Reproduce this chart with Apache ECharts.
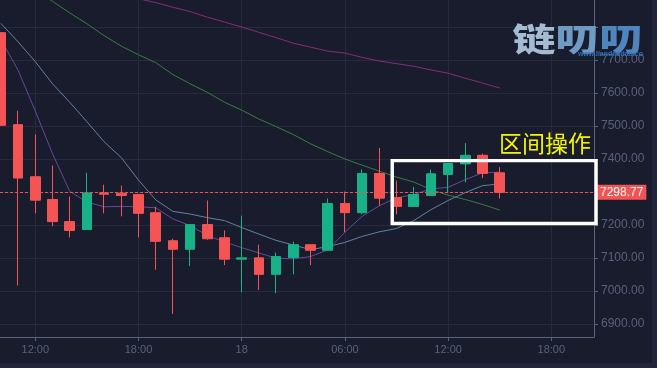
<!DOCTYPE html>
<html><head><meta charset="utf-8">
<script src="https://cdn.jsdelivr.net/npm/echarts@6/dist/echarts.min.js"></script>
<style>
html,body{margin:0;padding:0;background:#22263a;width:657px;height:368px;overflow:hidden}
#c{width:652px;height:363px}
</style></head>
<body><div id="c"></div>
<script>
// hour offsets (10 = 17th 10:00, 24 = 18th 00:00)
const hours = [10,11,12,13,14,15,16,17,18,19,20,21,22,23,24,25,26,27,28,29,30,31,32,33,34,35,36,37,38,39];
const open  = [7783,7504,7346,7277,7210,7186,7297,7296,7292,7237,7152,7126,7201,7161,7096,7100,7050,7101,7140,7123,7265,7237,7356,7283,7256,7289,7353,7385,7411,7358];
const close = [7502,7342,7275,7210,7183,7297,7293,7289,7235,7150,7126,7201,7158,7096,7100,7050,7104,7140,7123,7265,7237,7356,7281,7256,7292,7355,7386,7411,7356,7298.77];
const low   = [7502,7016,7235,7196,7162,7186,7235,7226,7162,7064,6930,7075,7155,7078,6996,7003,6993,7050,7078,7123,7178,7232,7258,7232,7256,7289,7296,7329,7342,7280];
const high  = [7783,7546,7474,7380,7286,7358,7322,7319,7292,7255,7158,7201,7274,7183,7228,7140,7116,7149,7140,7280,7301,7368,7433,7334,7315,7368,7386,7448,7416,7375];
const ma5   = [7762,7669,7545,7416,7302,7269,7255,7256,7255,7252,7218,7198,7168,7148,7131,7115,7099,7097,7104,7124,7178,7226,7258,7282,7292,7309,7314,7337,7358,7360];
const ma10  = [7811,7755,7695,7628,7572,7513,7452,7404,7336,7276,7241,7233,7222,7213,7192,7172,7153,7139,7125,7134,7147,7165,7179,7189,7213,7246,7274,7298,7319,7324];
const ma30  = [null,null,7910,7878,7843,7810,7774,7742,7716,7692,7656,7628,7602,7572,7548,7521,7498,7474,7446,7422,7400,7381,7363,7345,7330,7307,7290,7277,7262,7245];
const ma60  = [null,null,null,null,null,null,7912,7899,7886,7874,7860,7847,7830,7815,7800,7784,7768,7751,7739,7727,7721,7708,7697,7689,7681,7670,7660,7645,7630,7615];
const lastPrice = 7298.77;
const xTickHours  = [12,18,24,30,36,42];
const xTickLabels = ['12:00','18:00','18','06:00','12:00','18:00'];
const yTicks = [6900,7000,7100,7200,7300,7400,7500,7600,7700,7800];
const yLabelValues = [6900,7000,7100,7200,7300,7400,7500,7600,7700];
const boxHours  = [32.75, 44.6];
const boxPrices = [7204, 7395];
const noteText = '区间操作';
const logoChars = ['链','叨','叨'];
const logoColors = ['#a3bcd2','#6e9ac4','#4f85bd'];
const logoUrl = 'www.liandaodao.co';

const UP = '#17b287', DOWN = '#f45454';
const candleData = hours.map((h,i)=>[h, open[i], close[i], low[i], high[i]]);
const pair = arr => hours.map((h,i)=>[h, arr[i]]);
const lineS = (name, arr, color) => ({
  name, type:'line', data: pair(arr), showSymbol:false, symbol:'none', connectNulls:false,
  lineStyle:{color, width:1}, itemStyle:{color}, clip:true, silent:true, z:2
});

const chart = echarts.init(document.getElementById('c'), null, {renderer:'canvas'});
const axisCol = '#59637d', labCol = '#59617a', gridCol = '#252a3c';
chart.setOption({
  animation:false,
  backgroundColor:'#191c2d',
  grid:{left:0, right:58, top:0, bottom:26, containLabel:false},
  xAxis:{
    type:'value', min:9.948, max:44.48, minInterval:6, maxInterval:6,
    axisLine:{show:true, onZero:false, lineStyle:{color:axisCol}},
    axisTick:{show:true, length:4, lineStyle:{color:axisCol}, customValues:xTickHours},
    axisLabel:{color:labCol, fontSize:11, fontFamily:'Liberation Sans, Arial, sans-serif', margin:7,
      customValues:xTickHours,
      formatter: v => { const k = xTickHours.indexOf(Math.round(v)); return k>=0 ? xTickLabels[k] : ''; }},
    splitLine:{show:true, lineStyle:{color:gridCol, width:1}}
  },
  yAxis:{
    type:'value', position:'right', min:6860, max:7882, minInterval:100, maxInterval:100, scale:true,
    axisLine:{show:true, onZero:false, lineStyle:{color:axisCol}},
    axisTick:{show:true, length:4, lineStyle:{color:axisCol}, customValues:yTicks},
    axisLabel:{color:labCol, fontSize:12, fontFamily:'Liberation Sans, Arial, sans-serif', margin:7,
      customValues:yLabelValues, formatter: v => Number(v).toFixed(2)},
    splitLine:{show:true, lineStyle:{color:gridCol, width:1}}
  },
  series:[
    lineS('MA60', ma60, '#8a2c78'),
    lineS('MA30', ma30, '#3a7c42'),
    lineS('MA10', ma10, '#6282a4'),
    lineS('MA5',  ma5,  '#65499c'),
    {
      name:'K', type:'candlestick', data:candleData, encode:{x:0, y:[1,2,3,4]},
      barWidth:10, z:3,
      itemStyle:{color:UP, color0:DOWN, borderColor:UP, borderColor0:DOWN, borderWidth:1},
      markLine:{
        symbol:['none','none'], silent:true, animation:false,
        data:[{yAxis:lastPrice}],
        lineStyle:{color:'#f25050', type:[3,2], width:1, opacity:1},
        label:{show:true, position:'end', formatter:()=>lastPrice.toFixed(2), color:'#ffffff',
          backgroundColor:'#f05454', padding:[2,3,1,3], fontSize:12, distance:3,
          fontFamily:'Liberation Sans, Arial, sans-serif'}
      }
    }
  ]
});

const p1 = chart.convertToPixel({gridIndex:0}, [boxHours[0], boxPrices[1]]);
const p2 = chart.convertToPixel({gridIndex:0}, [boxHours[1], boxPrices[0]]);
const graphics = [
  {type:'rect', z:50, shape:{x:p1[0], y:p1[1], width:p2[0]-p1[0], height:p2[1]-p1[1]},
   style:{fill:'transparent', stroke:'#ffffff', lineWidth:3.4}},
  {type:'text', z:50, x:p2[0]-5, y:p1[1]-17.5,
   style:{text:noteText, fill:'#f4f400', font:'23px "Noto Sans CJK SC", sans-serif', align:'right', verticalAlign:'middle'}}
];
const logoCenters = [534, 577, 621];
logoChars.forEach((ch,i)=>{
  graphics.push({type:'text', z:60, x:logoCenters[i], y:38.5, scaleY:0.74, scaleX:1.0, originX:0, originY:0,
    style:{text:ch, font:'900 43px "Noto Sans CJK SC", sans-serif', align:'center', verticalAlign:'middle', fill:logoColors[i]}});
});
graphics.push({type:'text', z:61, x:643, y:54.5,
  style:{text:logoUrl, font:'bold 7px "Liberation Sans", Arial, sans-serif', align:'right', verticalAlign:'middle', fill:'#2f6fb8'}});
chart.setOption({graphic:graphics});
</script>
</body></html>
